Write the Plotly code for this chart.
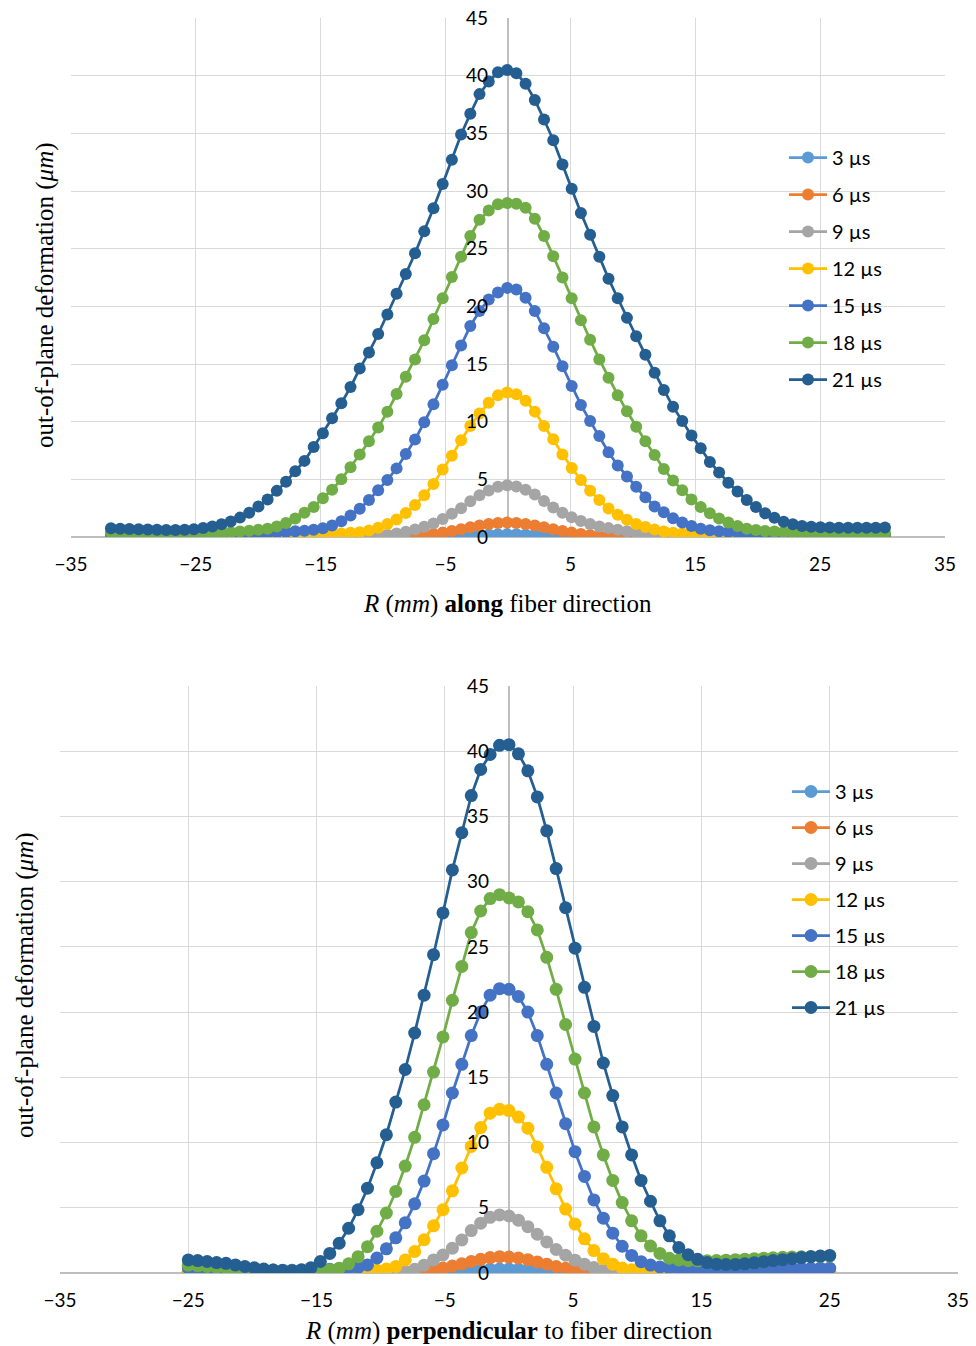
import plotly.graph_objects as go

labels = ["3 µs", "6 µs", "9 µs", "12 µs", "15 µs", "18 µs", "21 µs"]
colors = ["#5B9BD5", "#ED7D31", "#A5A5A5", "#FFC000", "#4472C4", "#70AD47", "#255E91"]

# sampling grids (regular spacing of the measured positions)
along_x_start = -31.8
along_x_step = 0.738
along_n = 85
perp_x_start = -25.0
perp_x_step = 50 / 68
perp_n = 69

along_x = [round(along_x_start + i * along_x_step, 3) for i in range(along_n)]
perp_x = [round(perp_x_start + i * perp_x_step, 3) for i in range(perp_n)]

# ---------------- along fiber direction ----------------
along_3 = [0.01, 0.01, 0.01, 0.01, 0.01, 0.01, 0.01, 0.01, 0.01, 0.01, 0.01, 0.01,
           0.01, 0.01, 0.01, 0.01, 0.01, 0.01, 0.01, 0.01, 0.01, 0.01, 0.01, 0.01,
           0.01, 0.01, 0.01, 0.01, 0.01, 0.01, 0.01, 0.01, 0.01, 0.01, 0.01, 0.03,
           0.05, 0.08, 0.11, 0.15, 0.19, 0.22, 0.24, 0.25, 0.24, 0.22, 0.19, 0.15,
           0.11, 0.08, 0.05, 0.03, 0.01, 0.01, 0.01, 0.01, 0.01, 0.01, 0.01, 0.01,
           0.01, 0.01, 0.01, 0.01, 0.01, 0.01, 0.01, 0.01, 0.01, 0.01, 0.01, 0.01,
           0.01, 0.01, 0.01, 0.01, 0.01, 0.01, 0.01, 0.01, 0.01, 0.01, 0.01, 0.01, 0.01]
along_6 = [0.02, 0.02, 0.02, 0.02, 0.02, 0.02, 0.02, 0.02, 0.02, 0.02, 0.02, 0.02,
           0.02, 0.02, 0.02, 0.02, 0.02, 0.02, 0.02, 0.02, 0.02, 0.02, 0.02, 0.02,
           0.02, 0.02, 0.02, 0.02, 0.02, 0.03, 0.03, 0.05, 0.08, 0.12, 0.18, 0.27,
           0.38, 0.52, 0.68, 0.85, 1.0, 1.13, 1.22, 1.25, 1.22, 1.13, 1.0, 0.85,
           0.68, 0.52, 0.38, 0.27, 0.18, 0.12, 0.08, 0.05, 0.03, 0.03, 0.02, 0.02,
           0.02, 0.02, 0.02, 0.02, 0.02, 0.02, 0.02, 0.02, 0.02, 0.02, 0.02, 0.02,
           0.02, 0.02, 0.02, 0.02, 0.02, 0.02, 0.02, 0.02, 0.02, 0.02, 0.02, 0.02, 0.02]
along_9 = [0.04, 0.04, 0.04, 0.04, 0.04, 0.04, 0.04, 0.04, 0.04, 0.04, 0.04, 0.04,
           0.04, 0.04, 0.04, 0.04, 0.04, 0.04, 0.04, 0.04, 0.04, 0.04, 0.04, 0.04,
           0.04, 0.04, 0.05, 0.07, 0.09, 0.13, 0.2, 0.3, 0.45, 0.65, 0.88, 1.17,
           1.55, 2.02, 2.5, 3.1, 3.62, 4.03, 4.35, 4.48, 4.38, 4.1, 3.68, 3.12,
           2.56, 2.1, 1.72, 1.38, 1.12, 0.92, 0.77, 0.62, 0.5, 0.4, 0.32, 0.25,
           0.2, 0.15, 0.12, 0.1, 0.08, 0.07, 0.06, 0.05, 0.05, 0.05, 0.05, 0.05,
           0.05, 0.05, 0.05, 0.05, 0.05, 0.05, 0.05, 0.05, 0.05, 0.05, 0.05, 0.05, 0.05]
along_12 = [0.08, 0.08, 0.07, 0.07, 0.07, 0.07, 0.07, 0.07, 0.07, 0.07, 0.08, 0.08,
            0.09, 0.1, 0.1, 0.11, 0.12, 0.13, 0.14, 0.15, 0.17, 0.19, 0.21, 0.24,
            0.27, 0.31, 0.36, 0.42, 0.57, 0.8, 1.12, 1.52, 2.08, 2.78, 3.62, 4.6,
            5.85, 7.05, 8.38, 9.62, 10.7, 11.65, 12.28, 12.52, 12.38, 11.82, 10.87, 9.62,
            8.47, 7.15, 5.98, 4.95, 4.02, 3.2, 2.48, 1.93, 1.5, 1.12, 0.86, 0.64,
            0.48, 0.37, 0.3, 0.25, 0.21, 0.18, 0.16, 0.14, 0.13, 0.12, 0.11, 0.1,
            0.1, 0.09, 0.09, 0.09, 0.08, 0.08, 0.08, 0.08, 0.08, 0.08, 0.08, 0.08, 0.08]
along_15 = [0.2, 0.19, 0.18, 0.17, 0.17, 0.16, 0.16, 0.16, 0.17, 0.18, 0.19, 0.21,
            0.23, 0.25, 0.27, 0.3, 0.33, 0.36, 0.4, 0.44, 0.49, 0.55, 0.63, 0.75,
            1.0, 1.37, 1.87, 2.45, 3.2, 4.05, 4.95, 5.95, 7.2, 8.45, 9.95, 11.5,
            13.2, 14.9, 16.6, 18.3, 19.6, 20.6, 21.2, 21.6, 21.45, 20.75, 19.6, 18.1,
            16.5, 14.8, 13.1, 11.45, 10.05, 8.75, 7.35, 6.2, 5.25, 4.35, 3.45, 2.65,
            2.15, 1.62, 1.25, 0.95, 0.72, 0.58, 0.5, 0.44, 0.39, 0.35, 0.31, 0.28,
            0.26, 0.24, 0.22, 0.21, 0.2, 0.2, 0.19, 0.19, 0.19, 0.19, 0.19, 0.19, 0.2]
along_18 = [0.38, 0.36, 0.34, 0.32, 0.3, 0.29, 0.28, 0.28, 0.28, 0.29, 0.31, 0.33,
            0.37, 0.42, 0.48, 0.55, 0.62, 0.72, 0.92, 1.22, 1.6, 2.1, 2.6, 3.35,
            4.1, 5.0, 6.05, 7.15, 8.3, 9.5, 10.85, 12.4, 13.9, 15.4, 17.05, 18.9,
            20.7, 22.55, 24.3, 26.1, 27.5, 28.3, 28.85, 28.95, 28.9, 28.55, 27.6, 26.1,
            24.35, 22.5, 20.7, 18.8, 17.1, 15.4, 13.8, 12.3, 10.9, 9.55, 8.3, 7.1,
            5.9, 4.9, 4.05, 3.25, 2.6, 2.05, 1.6, 1.25, 0.95, 0.72, 0.6, 0.52,
            0.47, 0.43, 0.4, 0.38, 0.37, 0.36, 0.35, 0.35, 0.35, 0.35, 0.35, 0.35, 0.36]
along_21 = [0.75, 0.72, 0.7, 0.68, 0.65, 0.62, 0.6, 0.6, 0.62, 0.68, 0.78, 0.92,
            1.1, 1.35, 1.68, 2.1, 2.65, 3.25, 4.0, 4.8, 5.7, 6.6, 7.8, 9.0,
            10.3, 11.6, 13.0, 14.6, 16.0, 17.6, 19.3, 21.1, 22.8, 24.6, 26.5, 28.5,
            30.6, 32.7, 34.9, 36.7, 38.4, 39.5, 40.3, 40.5, 40.2, 39.3, 37.9, 36.2,
            34.4, 32.3, 30.2, 28.1, 26.2, 24.3, 22.4, 20.7, 19.0, 17.4, 15.8, 14.25,
            12.75, 11.3, 10.05, 8.8, 7.7, 6.5, 5.6, 4.7, 3.95, 3.2, 2.6, 2.05,
            1.67, 1.33, 1.1, 0.95, 0.88, 0.85, 0.82, 0.8, 0.8, 0.8, 0.8, 0.8, 0.82]

# ---------------- perpendicular to fiber direction ----------------
perp_3 = [0.01, 0.01, 0.01, 0.01, 0.01, 0.01, 0.01, 0.01, 0.01, 0.01, 0.01, 0.01,
          0.01, 0.01, 0.01, 0.01, 0.01, 0.01, 0.01, 0.01, 0.01, 0.01, 0.01, 0.01,
          0.01, 0.03, 0.05, 0.07, 0.11, 0.15, 0.2, 0.25, 0.28, 0.3, 0.3, 0.28,
          0.25, 0.2, 0.15, 0.11, 0.07, 0.05, 0.03, 0.01, 0.01, 0.01, 0.01, 0.01,
          0.01, 0.01, 0.01, 0.01, 0.01, 0.01, 0.01, 0.01, 0.01, 0.01, 0.01, 0.01,
          0.01, 0.01, 0.01, 0.01, 0.01, 0.01, 0.01, 0.01, 0.01]
perp_6 = [0.03, 0.03, 0.03, 0.03, 0.03, 0.03, 0.03, 0.03, 0.03, 0.03, 0.03, 0.03,
          0.03, 0.03, 0.03, 0.03, 0.03, 0.03, 0.03, 0.03, 0.03, 0.03, 0.03, 0.03,
          0.09, 0.16, 0.26, 0.38, 0.53, 0.7, 0.88, 1.05, 1.18, 1.25, 1.22, 1.15,
          1.02, 0.85, 0.68, 0.5, 0.36, 0.24, 0.15, 0.08, 0.05, 0.03, 0.03, 0.03,
          0.03, 0.03, 0.03, 0.03, 0.03, 0.03, 0.03, 0.03, 0.03, 0.03, 0.03, 0.03,
          0.03, 0.03, 0.03, 0.03, 0.03, 0.03, 0.03, 0.03, 0.03]
perp_9 = [0.05, 0.05, 0.05, 0.05, 0.05, 0.05, 0.05, 0.05, 0.05, 0.05, 0.05, 0.05,
          0.05, 0.05, 0.05, 0.05, 0.05, 0.05, 0.05, 0.05, 0.05, 0.05, 0.07, 0.12,
          0.28, 0.6, 1.0, 1.38, 1.9, 2.53, 3.25, 3.82, 4.27, 4.45, 4.37, 4.05,
          3.55, 2.97, 2.38, 1.8, 1.36, 0.98, 0.68, 0.42, 0.23, 0.12, 0.07, 0.06,
          0.05, 0.05, 0.05, 0.05, 0.05, 0.05, 0.05, 0.05, 0.05, 0.05, 0.05, 0.05,
          0.05, 0.05, 0.05, 0.05, 0.05, 0.05, 0.05, 0.05, 0.05]
perp_12 = [0.1, 0.1, 0.1, 0.1, 0.1, 0.1, 0.1, 0.1, 0.1, 0.1, 0.1, 0.1,
           0.1, 0.1, 0.1, 0.1, 0.11, 0.12, 0.14, 0.17, 0.22, 0.3, 0.5, 1.0,
           1.65, 2.55, 3.62, 4.85, 6.3, 8.05, 9.7, 11.15, 12.25, 12.55, 12.45, 11.95,
           11.1, 9.65, 8.1, 6.45, 4.9, 3.75, 2.62, 1.72, 1.1, 0.68, 0.38, 0.25,
           0.18, 0.15, 0.13, 0.12, 0.12, 0.11, 0.11, 0.11, 0.1, 0.1, 0.1, 0.1,
           0.1, 0.1, 0.1, 0.1, 0.1, 0.1, 0.1, 0.1, 0.1]
perp_15 = [0.38, 0.36, 0.34, 0.32, 0.3, 0.28, 0.26, 0.25, 0.24, 0.23, 0.22, 0.22,
           0.22, 0.23, 0.25, 0.28, 0.3, 0.33, 0.42, 0.62, 1.15, 1.85, 2.7, 3.85,
           5.3, 7.05, 9.15, 11.35, 13.8, 16.0, 18.2, 20.0, 21.3, 21.8, 21.75, 21.2,
           20.0, 18.2, 16.0, 13.8, 11.45, 9.3, 7.4, 5.6, 4.2, 3.05, 2.05, 1.35,
           0.87, 0.61, 0.46, 0.4, 0.37, 0.36, 0.35, 0.35, 0.35, 0.35, 0.35, 0.35,
           0.35, 0.35, 0.35, 0.35, 0.36, 0.36, 0.36, 0.37, 0.37]
perp_18 = [0.6, 0.55, 0.5, 0.45, 0.4, 0.35, 0.3, 0.26, 0.22, 0.2, 0.18, 0.17,
           0.17, 0.18, 0.2, 0.25, 0.37, 0.7, 1.25, 2.02, 3.2, 4.6, 6.25, 8.2,
           10.4, 12.9, 15.4, 18.1, 20.9, 23.5, 26.1, 27.75, 28.7, 29.0, 28.75, 28.45,
           27.7, 26.3, 24.2, 21.75, 19.05, 16.4, 13.8, 11.2, 9.05, 7.1, 5.4, 4.0,
           2.85, 2.07, 1.5, 1.13, 1.0, 0.95, 0.93, 0.93, 0.95, 0.98, 1.02, 1.06,
           1.1, 1.14, 1.17, 1.2, 1.22, 1.24, 1.26, 1.28, 1.3]
perp_21 = [1.0, 0.95, 0.88, 0.8, 0.74, 0.62, 0.5, 0.4, 0.3, 0.23, 0.19, 0.18,
           0.25, 0.4, 0.88, 1.5, 2.28, 3.43, 4.85, 6.5, 8.45, 10.6, 13.1, 15.6,
           18.4, 21.3, 24.4, 27.6, 30.9, 33.75, 36.6, 38.6, 39.75, 40.45, 40.5, 39.8,
           38.5, 36.5, 33.9, 31.0, 28.0, 24.9, 21.9, 18.9, 16.1, 13.6, 11.2, 9.05,
           7.1, 5.5, 4.0, 2.85, 1.95, 1.4, 1.05, 0.8, 0.68, 0.65, 0.66, 0.7,
           0.78, 0.87, 0.95, 1.02, 1.1, 1.18, 1.25, 1.3, 1.35]

along_series = [along_3, along_6, along_9, along_12, along_15, along_18, along_21]
perp_series = [perp_3, perp_6, perp_9, perp_12, perp_15, perp_18, perp_21]

# The page body margin is removed (post_script below), so the figure fills the window.
W, H = 976, 1346


def px(X):
    return X / W


def py(Y):
    return 1 - Y / H


fig = go.Figure()

for i, (lab, col, ys) in enumerate(zip(labels, colors, along_series)):
    fig.add_trace(go.Scatter(
        x=along_x, y=ys, mode="lines+markers", name=lab,
        line=dict(color=col, width=2.75), marker=dict(size=12, color=col),
        xaxis="x", yaxis="y", legend="legend", legendgroup="a%d" % i))

for i, (lab, col, ys) in enumerate(zip(labels, colors, perp_series)):
    fig.add_trace(go.Scatter(
        x=perp_x, y=ys, mode="lines+markers", name=lab,
        line=dict(color=col, width=2.75), marker=dict(size=13, color=col),
        xaxis="x2", yaxis="y2", legend="legend2", legendgroup="p%d" % i))

grid = "#D9D9D9"
axcol = "#BFBFBF"
tickfont = dict(family="Lato", size=19, color="#000000")

xcommon = dict(range=[-35, 35], tick0=-35, dtick=10, showgrid=True, gridcolor=grid,
               gridwidth=1.2, zeroline=True, zerolinecolor=axcol, zerolinewidth=1.5,
               showline=False, ticks="", tickfont=tickfont, ticklabelstandoff=14,
               automargin=False, ticklabeloverflow="allow")
ycommon = dict(range=[0, 45], tick0=0, dtick=5, showgrid=True, gridcolor=grid,
               gridwidth=1.2, zeroline=True, zerolinecolor=axcol, zerolinewidth=1.5,
               showline=False, ticks="", tickfont=tickfont, ticklabelstandoff=20,
               automargin=False, ticklabeloverflow="allow")

legfont = dict(family="Lato", size=20, color="#000000")

fig.update_layout(
    width=W, height=H, margin=dict(l=0, r=0, t=0, b=0, autoexpand=False),
    paper_bgcolor="white", plot_bgcolor="white",
    font=dict(family="Lato", size=18, color="#000000"),
    xaxis=dict(domain=[px(71), px(945)], anchor="y", **xcommon),
    yaxis=dict(domain=[py(537), py(18)], anchor="free", position=px(508), **ycommon),
    xaxis2=dict(domain=[px(60), px(958)], anchor="y2", **xcommon),
    yaxis2=dict(domain=[py(1273), py(686)], anchor="free", position=px(509), **ycommon),
    legend=dict(x=px(784), xanchor="left", y=py(138), yanchor="top",
                bgcolor="rgba(0,0,0,0)", font=legfont, tracegroupgap=8, itemwidth=38),
    legend2=dict(x=px(787), xanchor="left", y=py(772), yanchor="top",
                 bgcolor="rgba(0,0,0,0)", font=legfont, tracegroupgap=7, itemwidth=38),
    showlegend=True,
)

serif = dict(family="Liberation Serif", size=25, color="#000000")
fig.add_annotation(text="out-of-plane deformation (<i>μm</i>)", xref="paper", yref="paper",
                   x=px(45), y=py(295), textangle=-90, showarrow=False, font=serif,
                   xanchor="center", yanchor="middle")
fig.add_annotation(text="out-of-plane deformation (<i>μm</i>)", xref="paper", yref="paper",
                   x=px(25), y=py(985), textangle=-90, showarrow=False, font=serif,
                   xanchor="center", yanchor="middle")
fig.add_annotation(text="<i>R</i> (<i>mm</i>) <b>along</b> fiber direction", xref="paper", yref="paper",
                   x=px(508), y=py(604), showarrow=False, font=serif,
                   xanchor="center", yanchor="middle")
fig.add_annotation(text="<i>R</i> (<i>mm</i>) <b>perpendicular</b> to fiber direction", xref="paper",
                   yref="paper", x=px(509), y=py(1331), showarrow=False, font=serif,
                   xanchor="center", yanchor="middle")

fig.write_html("out.html", config={"displayModeBar": False},
               post_script="document.body.style.margin='0';document.body.style.overflow='hidden';")
